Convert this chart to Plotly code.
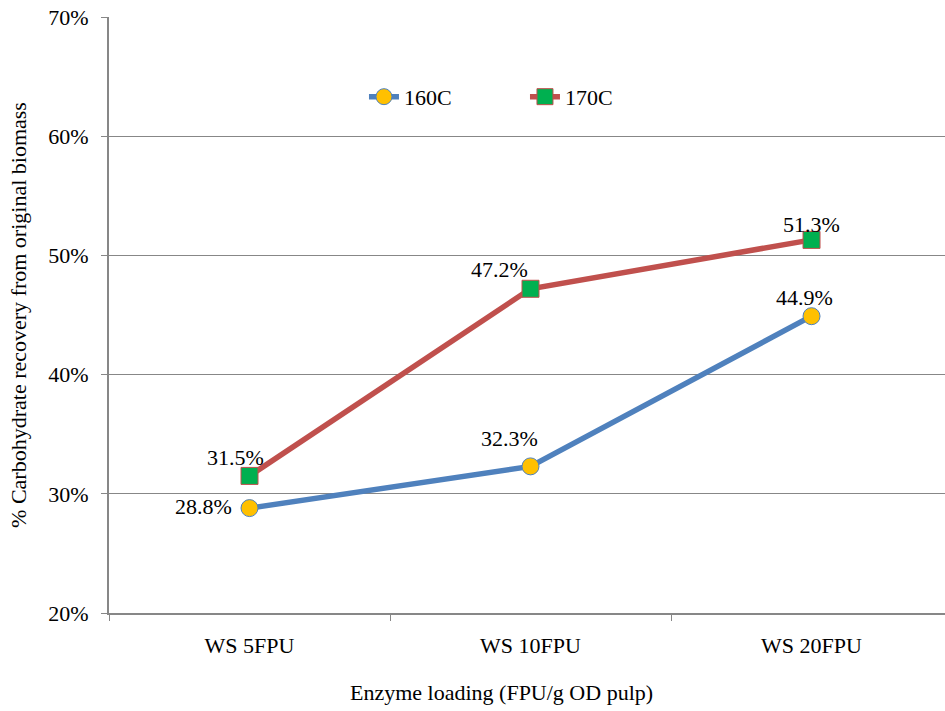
import plotly.graph_objects as go

# Carbohydrate recovery vs. enzyme loading at two pretreatment temperatures
categories = ["WS 5FPU", "WS 10FPU", "WS 20FPU"]
recovery_160c = [0.288, 0.323, 0.449]
recovery_170c = [0.315, 0.472, 0.513]
y_ticks = [0.2, 0.3, 0.4, 0.5, 0.6, 0.7]

# label offsets (px) for each data label
offsets_160c = [(-46, 2), (-21, 28), (-7, 19)]
offsets_170c = [(-14, 18), (-31, 19), (0, 15)]

FONT = "Liberation Serif"
BLUE, RED = "#4F81BD", "#C0504D"

fig = go.Figure()
fig.add_trace(go.Scatter(
    x=categories, y=recovery_160c, name="160C", mode="lines+markers",
    line=dict(color=BLUE, width=5.5),
    marker=dict(symbol="circle", size=17, color="#FFC000",
                line=dict(color=BLUE, width=1)),
))
fig.add_trace(go.Scatter(
    x=categories, y=recovery_170c, name="170C", mode="lines+markers",
    line=dict(color=RED, width=5.5),
    marker=dict(symbol="square", size=17, color="#00B050",
                line=dict(color=RED, width=1)),
))

for vals, offs in ((recovery_160c, offsets_160c), (recovery_170c, offsets_170c)):
    for c, v, (dx, dy) in zip(categories, vals, offs):
        fig.add_annotation(x=c, y=v, text=f"{v*100:.1f}%", showarrow=False,
                           xshift=dx, yshift=dy,
                           font=dict(family=FONT, size=22, color="black"))

fig.add_annotation(xref="paper", yref="paper", x=0.47, y=-0.1326,
                   yanchor="middle", showarrow=False,
                   text="Enzyme loading (FPU/g OD pulp)",
                   font=dict(family=FONT, size=22, color="black"))

fig.update_layout(
    width=945, height=711,
    margin=dict(l=109, r=0, t=17, b=98),
    paper_bgcolor="white", plot_bgcolor="white",
    font=dict(family=FONT, size=22, color="black"),
    showlegend=True,
    legend=dict(orientation="h", x=0.305, y=0.866, xanchor="left", yanchor="middle",
                font=dict(family=FONT, size=22, color="black"),
                itemwidth=30, bgcolor="rgba(0,0,0,0)",
                entrywidthmode="pixels", entrywidth=116),
    xaxis=dict(
        type="category", range=[-0.5, 2.475],
        showline=True, linecolor="#878787", linewidth=2,
        ticks="outside", tickson="boundaries", ticklen=6, tickcolor="#878787",
        showgrid=False, tickfont=dict(family=FONT, size=22),
        ticklabelstandoff=12,
    ),
    yaxis=dict(
        range=[0.2, 0.7], tickvals=y_ticks, tickformat=".0%",
        showline=True, linecolor="#878787", linewidth=2,
        ticks="outside", ticklen=6, tickcolor="#878787",
        showgrid=True, gridcolor="#878787", gridwidth=1,
        zeroline=False, tickfont=dict(family=FONT, size=22),
        ticklabelstandoff=8,
        title=dict(text="% Carbohydrate recovery from original biomass",
                   font=dict(family=FONT, size=22), standoff=16),
    ),
)

fig.write_html("out.html")
